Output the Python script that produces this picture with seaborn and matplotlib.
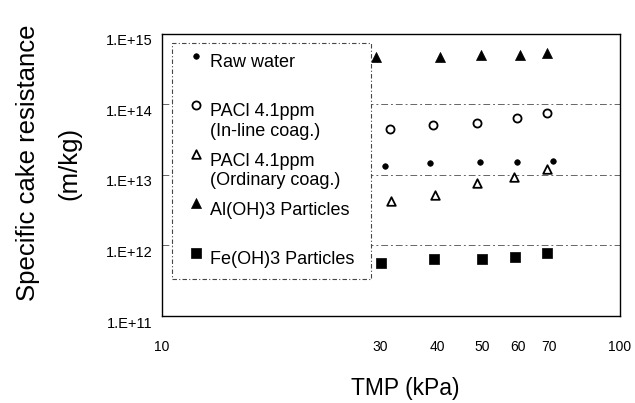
import numpy as np
import pandas as pd
import matplotlib
matplotlib.use("Agg")
import matplotlib.pyplot as plt
import matplotlib.transforms as mtransforms
from matplotlib.ticker import FixedLocator, FixedFormatter, NullLocator
import seaborn as sns

# ---- data ----
series_labels = [
    "Raw water\n",
    "PACl 4.1ppm\n(In-line coag.)",
    "PACl 4.1ppm\n(Ordinary coag.)",
    "Al(OH)3 Particles\n",
    "Fe(OH)3 Particles ",
]
tmp_raw = [30.7, 38.5, 49.4, 59.6, 71.4]
res_raw = [1.34e13, 1.48e13, 1.53e13, 1.53e13, 1.58e13]
tmp_inline = [31.5, 39.1, 48.7, 59.6, 69.3]
res_inline = [4.49e13, 5.12e13, 5.47e13, 6.44e13, 7.57e13]
tmp_ordinary = [31.6, 39.5, 48.7, 58.7, 69.3]
res_ordinary = [4.28e12, 5.2e12, 7.7e12, 9.38e12, 1.22e13]
tmp_aloh = [29.3, 40.5, 49.7, 60.5, 69.3]
res_aloh = [4.72e14, 4.72e14, 5.04e14, 5.04e14, 5.37e14]
tmp_feoh = [30.1, 39.2, 50.0, 59.0, 69.3]
res_feoh = [5.65e11, 6.44e11, 6.44e11, 6.87e11, 7.83e11]

x_ticks = [10, 30, 40, 50, 60, 70, 100]
x_tick_labels = ["10", "30", "40", "50", "60", "70", "100"]
y_ticks = [1e11, 1e12, 1e13, 1e14, 1e15]
y_tick_labels = ["1.E+11", "1.E+12", "1.E+13", "1.E+14", "1.E+15"]

# ---- styling ----
sns.set_theme(style="white")
plt.rcParams["font.family"] = ["Liberation Sans", "DejaVu Sans"]

fig = plt.figure(figsize=(6.35, 4.03), dpi=100)
ax = fig.add_axes([162 / 635, 1 - 316 / 403, (620 - 162) / 635, (316 - 34) / 403])

series = [
    (tmp_raw, res_raw, "o", 16, "black", 0.5),
    (tmp_inline, res_inline, "o", 34, "white", 1.3),
    (tmp_ordinary, res_ordinary, "^", 38, "white", 1.3),
    (tmp_aloh, res_aloh, "^", 52, "black", 0.5),
    (tmp_feoh, res_feoh, "s", 46, "black", 0.5),
]
for (xs, ys, mk, size, fc, lw), lab in zip(series, series_labels):
    df = pd.DataFrame({"TMP": xs, "R": ys})
    sns.scatterplot(data=df, x="TMP", y="R", ax=ax, marker=mk, s=size,
                    facecolor=fc, edgecolor="black", linewidth=lw,
                    label=lab, legend=False, zorder=3)

ax.set_xscale("log")
ax.set_yscale("log")
ax.set_xlim(10, 100)
ax.set_ylim(1e11, 1e15)
ax.xaxis.set_major_locator(FixedLocator(x_ticks))
ax.xaxis.set_major_formatter(FixedFormatter(x_tick_labels))
ax.xaxis.set_minor_locator(NullLocator())
ax.yaxis.set_major_locator(FixedLocator(y_ticks))
ax.yaxis.set_major_formatter(FixedFormatter(y_tick_labels))
ax.yaxis.set_minor_locator(NullLocator())
ax.tick_params(axis="x", length=0, pad=17, labelsize=10, colors="black")
ax.tick_params(axis="y", length=0, pad=7, labelsize=10.5, colors="black")

off = mtransforms.ScaledTranslation(0, -6 / 100, fig.dpi_scale_trans)
for lbl in ax.get_yticklabels():
    lbl.set_transform(lbl.get_transform() + off)

ax.yaxis.grid(True, which="major", linestyle=(0, (7, 3, 2, 3)), color="#666666", linewidth=0.7)
ax.xaxis.grid(False)
for sp in ax.spines.values():
    sp.set_color("black")
    sp.set_linewidth(1.0)

ax.set_xlabel("TMP (kPa)", fontsize=16.5, color="black")
ax.set_ylabel("Specific cake resistance\n(m/kg)", fontsize=18.5, color="black", linespacing=1.9)
ax.xaxis.set_label_coords((405 - 162) / 458, (316 - 377) / 282)
ax.yaxis.set_label_coords(-(162 - 81) / 458, (316 - 163) / 282)

leg_fs = 13
leg = ax.legend(loc="upper left", bbox_to_anchor=(10 / 458, (316 - 43) / 282),
                borderaxespad=0, frameon=True, fancybox=False, fontsize=leg_fs,
                scatterpoints=1, scatteryoffsets=[1.85], labelspacing=0.7,
                borderpad=0.62, handlelength=1.45, handletextpad=0.04,
                framealpha=1)
# the last entry has a single line: put its marker at its text height
hh = leg.handleheight * leg_fs
fe_handle = leg.legend_handles[4]
o = np.asarray(fe_handle.get_offsets()).copy()
o[:, 1] = 0.92 * hh
fe_handle.set_offsets(o)

fr = leg.get_frame()
fr.set_edgecolor("#444444")
fr.set_linewidth(0.8)
fr.set_linestyle((0, (4, 2, 1, 2)))
for t in leg.get_texts():
    t.set_color("black")

fig.savefig("out.png", dpi=100)
